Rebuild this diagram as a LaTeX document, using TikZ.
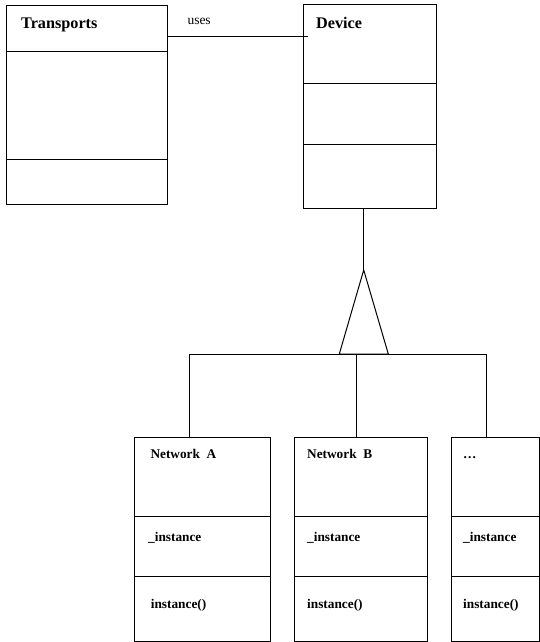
\documentclass[tikz,border=0pt]{standalone}
\usepackage{fontspec}
\setmainfont{Liberation Serif}
\begin{document}
\begin{tikzpicture}[x=1pt,y=-1pt,
  box/.style={draw=black,line width=1pt,rectangle,anchor=north west,inner sep=0pt,outer sep=0pt},
  ln/.style={draw=black,line width=1pt},
  bigt/.style={anchor=base west,inner sep=0pt,font=\fontsize{16.2}{18}\selectfont\bfseries},
  smt/.style={anchor=base west,inner sep=0pt,font=\fontsize{13.3}{15}\selectfont\bfseries},
  lbl/.style={anchor=base west,inner sep=0pt,font=\fontsize{13.5}{15}\selectfont}]
\useasboundingbox[fill=white] (0,0) rectangle (540,642);
% Transports
\node[box,minimum width=161pt,minimum height=198pt] (trans) at (6,6) {};
\draw[ln] (6,51.5) -- (167,51.5);
\draw[ln] (6,159.3) -- (167,159.3);
\node[bigt] (transT) at (21,28.3) {Transports};
% Device
\node[box,minimum width=133pt,minimum height=203pt] (dev) at (303,5) {};
\draw[ln] (303,83.3) -- (436,83.3);
\draw[ln] (303,144.3) -- (436,144.3);
\node[bigt] (devT) at (316,28.3) {Device};
% uses association
\coordinate (u1) at (167,37);
\coordinate (u2) at (308,37);
\draw[ln] (u1) -- (u2);
\node[lbl] (uses) at (187.3,24.5) {uses};
% Children
\node[box,minimum width=136pt,minimum height=204pt] (netA) at (134,437) {};
\node[box,minimum width=133pt,minimum height=204pt] (netB) at (294,437) {};
\node[box,minimum width=88pt,minimum height=204pt] (netC) at (451,437) {};
\foreach \n/\l/\r in {A/134/270,B/294/427,C/451/539}{
  \draw[ln] (\l,516) -- (\r,516);
  \draw[ln] (\l,576.7) -- (\r,576.7);
}
\node[smt] (tA) at (150.3,458.3) {Network\ \ A};
\node[smt] (tB) at (307,458.3) {Network\ \ B};
\node[smt] (tC) at (463,458.3) {\dots};
\node[smt] (iA) at (148,541.7) {\_instance};
\node[smt] (iB) at (307,541.7) {\_instance};
\node[smt] (iC) at (463,541.7) {\_instance};
\node[smt] (mA) at (150.7,608) {instance()};
\node[smt] (mB) at (307,608) {instance()};
\node[smt] (mC) at (463,608) {instance()};
% Generalization
\coordinate (apex) at (363.7,270);
\coordinate (bl) at (339.3,354);
\coordinate (br) at (388.3,354);
\draw[ln] (dev.south -| apex) -- (apex);
\draw[ln,line join=miter] (apex) -- (bl) -- (br) -- cycle;
\coordinate (busL) at (189.3,354);
\coordinate (busM) at (356.7,354);
\coordinate (busR) at (486.3,354);
\draw[ln] (busL) -- (busR);
\draw[ln] (busL) -- (netA.north -| busL);
\draw[ln] (busM) -- (netB.north -| busM);
\draw[ln] (busR) -- (netC.north -| busR);
\end{tikzpicture}
\end{document}
